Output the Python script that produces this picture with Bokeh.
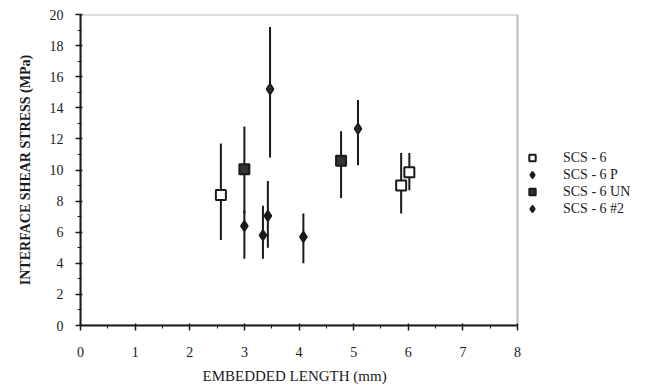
from bokeh.plotting import figure
from bokeh.models import Legend, LegendItem, ColumnDataSource, FixedTicker, BoxAnnotation, Title
from bokeh.embed import file_html
from bokeh.resources import INLINE

# SCS-6 (open square)
scs6_x = [2.57, 5.87, 6.02]
scs6_y = [8.4, 9.0, 9.85]
scs6_lo = [5.5, 7.2, 8.7]
scs6_hi = [11.7, 11.1, 11.1]

# SCS-6 P (filled diamond)
p_x = [3.0, 3.34, 3.43, 4.08]
p_y = [6.4, 5.8, 7.05, 5.7]
p_lo = [4.3, 4.3, 5.0, 4.0]
p_hi = [7.4, 7.7, 9.3, 7.2]

# SCS-6 UN (filled square)
un_x = [3.0, 4.77]
un_y = [10.05, 10.6]
un_lo = [7.2, 8.2]
un_hi = [12.8, 12.5]

# SCS-6 #2 (diamond with dot)
n2_x = [3.47, 5.08]
n2_y = [15.2, 12.65]
n2_lo = [10.8, 10.3]
n2_hi = [19.2, 14.5]

x_ticks = [0, 1, 2, 3, 4, 5, 6, 7, 8]
y_ticks = [0, 2, 4, 6, 8, 10, 12, 14, 16, 18, 20]
X_MAX, Y_MAX = 8, 20

FONT = "Liberation Serif"
INK = "#1a1a1a"

# frame spans to the page's right edge so that the legend can sit beside the box
x_end = X_MAX * 577 / 437
p = figure(width=657, height=392, x_range=(0, x_end), y_range=(0, Y_MAX),
           output_backend="svg", toolbar_location=None,
           min_border_left=80, min_border_right=0,
           min_border_top=14, min_border_bottom=67)
p.xgrid.visible = False
p.ygrid.visible = False
p.outline_line_color = None
p.background_fill_color = "white"
p.border_fill_color = "white"

p.add_layout(BoxAnnotation(left=0, right=X_MAX, bottom=0, top=Y_MAX,
                           fill_alpha=0, line_color=INK, line_width=2))

for ax in (p.xaxis[0], p.yaxis[0]):
    ax.axis_line_color = INK
    ax.axis_line_width = 2
    ax.major_tick_line_color = INK
    ax.minor_tick_line_color = INK
    ax.major_tick_line_width = 1.5
    ax.major_tick_out = 5
    ax.major_tick_in = 2
    ax.minor_tick_out = 3
    ax.minor_tick_in = 1
    ax.major_label_text_font = FONT
    ax.major_label_text_font_size = "14px"
    ax.major_label_text_color = INK
    ax.axis_label_text_font = FONT
    ax.axis_label_text_color = INK

p.xaxis.bounds = (0, X_MAX)
p.xaxis.ticker = FixedTicker(ticks=x_ticks, minor_ticks=[i + 0.5 for i in range(8)])
p.yaxis.ticker = FixedTicker(ticks=y_ticks, minor_ticks=list(range(1, 20, 2)))
p.xaxis.major_label_standoff = 16
p.yaxis.axis_label = "INTERFACE SHEAR STRESS (MPa)"
p.yaxis.axis_label_text_font_style = "bold"
p.yaxis.axis_label_text_font_size = "14px"
p.yaxis.major_label_standoff = 12
p.yaxis.axis_label_standoff = 14

xlabel = Title(text="EMBEDDED LENGTH (mm)", align="left", offset=122,
               text_font=FONT, text_font_size="15px", text_font_style="normal",
               text_color=INK, standoff=12)
p.add_layout(xlabel, "below")

def series(xs, ys, lo, hi, marker, fill):
    src = ColumnDataSource(dict(x=xs, y=ys, lo=lo, hi=hi))
    p.segment(x0="x", y0="lo", x1="x", y1="hi", source=src, line_color=INK, line_width=2)
    return p.scatter("x", "y", source=src, marker=marker, size=10,
                     line_color=INK, line_width=2, fill_color=fill)

r1 = series(scs6_x, scs6_y, scs6_lo, scs6_hi, "square", "white")
r2 = series(p_x, p_y, p_lo, p_hi, "diamond", INK)
r3 = series(un_x, un_y, un_lo, un_hi, "square", "#333333")
r4 = series(n2_x, n2_y, n2_lo, n2_hi, "diamond_dot", "#444444")

legend = Legend(items=[
    LegendItem(label="SCS - 6", renderers=[r1]),
    LegendItem(label="SCS - 6 P", renderers=[r2]),
    LegendItem(label="SCS - 6 UN", renderers=[r3]),
    LegendItem(label="SCS - 6 #2", renderers=[r4]),
], location=(444, 108))
legend.border_line_color = None
legend.background_fill_alpha = 0
legend.label_text_font = FONT
legend.label_text_font_size = "14px"
legend.label_text_color = INK
legend.spacing = 0
legend.glyph_width = 16
legend.glyph_height = 17
legend.label_height = 17
legend.label_standoff = 23
legend.margin = 0
legend.padding = 10
p.add_layout(legend, "center")

open("out.html", "w").write(file_html(p, INLINE))
